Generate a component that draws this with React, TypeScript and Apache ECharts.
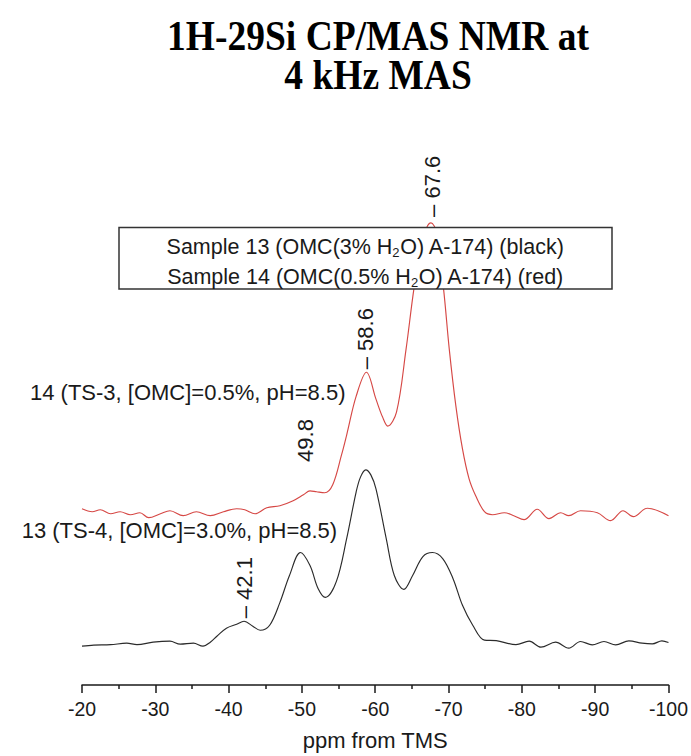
import React, { useEffect, useRef } from "react";
import * as echarts from "echarts";

// ---- data (ppm, intensity in arbitrary units) ----
const titleLines = ["1H-29Si CP/MAS NMR at", "4 kHz MAS"];
const axisTitle = "ppm from TMS";
const xMin = -100;
const xMax = -20;
const xStep = 10;

const sample13Black: [number, number][] = [
  [-20, -2], [-21.6, -1], [-23.9, -0.5], [-26.1, 1], [-27.5, -0.5], [-29.7, 2],
  [-32.0, 3], [-33.4, 0], [-35.2, 1], [-36.5, -2], [-37.5, 2], [-38.4, 8],
  [-39.7, 16], [-41.1, 20], [-42.1, 23], [-43.3, 18], [-44.3, 14], [-45.6, 19],
  [-47.0, 42], [-48.3, 69], [-49.8, 92], [-51.1, 79], [-52.2, 56], [-53.2, 47],
  [-54.7, 63], [-56.1, 106], [-57.4, 153], [-58.0, 168], [-58.7, 175], [-59.4, 170],
  [-60.1, 156], [-61.5, 106], [-62.6, 69], [-63.9, 55], [-65.1, 69], [-66.5, 88],
  [-67.8, 92], [-69.2, 86], [-70.6, 66], [-71.9, 39], [-73.3, 19], [-74.9, 4],
  [-76.5, 3.5], [-79.2, -0.5], [-81.0, 3], [-82.6, -3], [-84.6, 2], [-86.4, -4],
  [-88.0, 2.7], [-89.6, -0.7], [-91.2, 2.7], [-92.8, -0.7], [-94.6, 3.3],
  [-96.4, 1], [-97.8, 0.3], [-99.1, 3.3], [-100, 1.7],
];

const sample14Red: [number, number][] = [
  [-20, 136], [-21.4, 133], [-22.5, 135], [-23.9, 131], [-25.2, 133], [-26.6, 130],
  [-27.9, 132], [-29.1, 127], [-30.7, 131], [-32.0, 134], [-33.8, 129], [-35.6, 133],
  [-37.5, 129], [-39.3, 133], [-41.1, 136], [-42.2, 135], [-43.6, 131], [-45.2, 137],
  [-47.0, 139], [-48.8, 144], [-50.2, 150], [-51.1, 154], [-52.0, 153], [-53.1, 152],
  [-54.2, 160], [-55.4, 190], [-56.1, 210], [-57.4, 249], [-58.8, 273], [-60.1, 246],
  [-61.0, 228], [-61.7, 219], [-62.9, 233], [-64.2, 296], [-65.3, 358], [-66.3, 400],
  [-67.0, 418], [-67.6, 423], [-68.3, 415], [-69.3, 358], [-70.1, 296], [-71.0, 239],
  [-71.9, 196], [-72.8, 166], [-73.7, 149], [-74.9, 133], [-76.0, 130], [-77.6, 132],
  [-78.9, 129], [-80.3, 125], [-82.1, 135.5], [-83.7, 126], [-85.3, 132], [-86.4, 129],
  [-88.0, 134], [-90.3, 132], [-92.1, 124], [-93.8, 134], [-95.2, 128], [-97.1, 136.5],
  [-100, 129],
];

const peakLabels = [
  { text: "\u2013 67.6", ppm: -67.84, intensity: 429 },
  { text: "\u2013 58.6", ppm: -58.68, intensity: 276 },
  { text: "49.8", ppm: -50.5, intensity: 183 },
  { text: "\u2013 42.1", ppm: -42.2, intensity: 26 },
];

const traceLabels = ["14 (TS-3, [OMC]=0.5%, pH=8.5)", "13 (TS-4, [OMC]=3.0%, pH=8.5)"];
const legendLines = [
  "Sample 13 (OMC(3% H{s|2}O) A-174) (black)",
  "Sample 14 (OMC(0.5% H{s|2}O) A-174) (red)",
];

const INK = "#1a1a1a";
const SANS = "'Liberation Sans', Arial, Helvetica, sans-serif";
const SERIF = "'Liberation Serif', 'Times New Roman', serif";

export default function App() {
  const ref = useRef<HTMLDivElement>(null);

  useEffect(() => {
    if (!ref.current) return;
    const chart = echarts.init(ref.current, null, { renderer: "svg" });
    chart.setOption({
      animation: false,
      backgroundColor: "#ffffff",
      grid: { left: 82, right: 21, top: 200, bottom: 69 },
      xAxis: {
        type: "value",
        min: xMin,
        max: xMax,
        interval: xStep,
        inverse: true,
        name: axisTitle,
        nameLocation: "middle",
        nameGap: 44,
        nameTextStyle: { fontSize: 22, fontFamily: SANS, color: INK },
        axisLine: { show: true, onZero: false, lineStyle: { color: INK, width: 1.5 } },
        axisTick: { show: true, inside: false, length: 8, lineStyle: { color: INK, width: 1.5 } },
        minorTick: { show: true, splitNumber: 2, length: 4, lineStyle: { color: INK, width: 1.5 } },
        axisLabel: { margin: 14, fontSize: 19.5, fontFamily: SANS, color: INK },
        splitLine: { show: false },
      },
      yAxis: { type: "value", min: -41, max: 446, show: false },
      series: [
        {
          name: "Sample 13",
          type: "line",
          data: sample13Black,
          symbol: "none",
          smooth: 0.35,
          lineStyle: { color: "#2b2b2b", width: 1.15 },
          z: 2,
        },
        {
          name: "Sample 14",
          type: "line",
          data: sample14Red,
          symbol: "none",
          smooth: 0.35,
          lineStyle: { color: "#d64845", width: 1.15 },
          z: 2,
        },
      ],
    });

    const graphics: any[] = [];
    // title
    titleLines.forEach((t, i) => {
      graphics.push({
        type: "text",
        x: 378,
        y: 36 + i * 39,
        scaleY: 1.15,
        z: 100,
        style: {
          text: t,
          fontFamily: SERIF,
          fontWeight: "bold",
          fontSize: 37.5,
          fill: "#000",
          align: "center",
          verticalAlign: "middle",
        },
      });
    });

    // legend box
    graphics.push({
      type: "rect",
      z: 100,
      shape: { x: 119, y: 227.5, width: 493, height: 61.5 },
      style: { fill: "#ffffff", stroke: "#333", lineWidth: 1.5 },
    });
    legendLines.forEach((t, i) => {
      graphics.push({
        type: "text",
        x: 365.5,
        y: 246.5 + i * 30,
        z: 101,
        style: {
          text: t,
          fontFamily: SANS,
          fontSize: 21.5,
          lineHeight: 22,
          fill: INK,
          align: "center",
          verticalAlign: "middle",
          rich: {
            s: {
              fontFamily: SANS,
              fontSize: 13,
              lineHeight: 22,
              verticalAlign: "top",
              padding: [10, 0, 0, 0],
              fill: INK,
            },
          },
        },
      });
    });

    // trace labels
    const traceAnchors = [
      { x: 30, y: 392.4 },
      { x: 21.7, y: 530.7 },
    ];
    traceLabels.forEach((t, i) => {
      graphics.push({
        type: "text",
        x: traceAnchors[i].x,
        y: traceAnchors[i].y,
        z: 100,
        style: {
          text: t,
          fontFamily: SANS,
          fontSize: 22,
          fill: INK,
          align: "left",
          verticalAlign: "middle",
        },
      });
    });

    // rotated peak labels anchored via the axes
    peakLabels.forEach((p) => {
      const pt = chart.convertToPixel({ gridIndex: 0 }, [p.ppm, p.intensity]) as number[];
      graphics.push({
        type: "text",
        x: pt[0],
        y: pt[1],
        rotation: Math.PI / 2,
        z: 100,
        style: {
          text: p.text,
          fontFamily: SANS,
          fontSize: 22,
          fill: INK,
          align: "left",
          verticalAlign: "middle",
        },
      });
    });

    chart.setOption({ graphic: graphics });
    return () => chart.dispose();
  }, []);

  return (
    <div
      ref={ref}
      style={{ position: "absolute", left: 0, top: 0, width: 691, height: 756 }}
    />
  );
}
